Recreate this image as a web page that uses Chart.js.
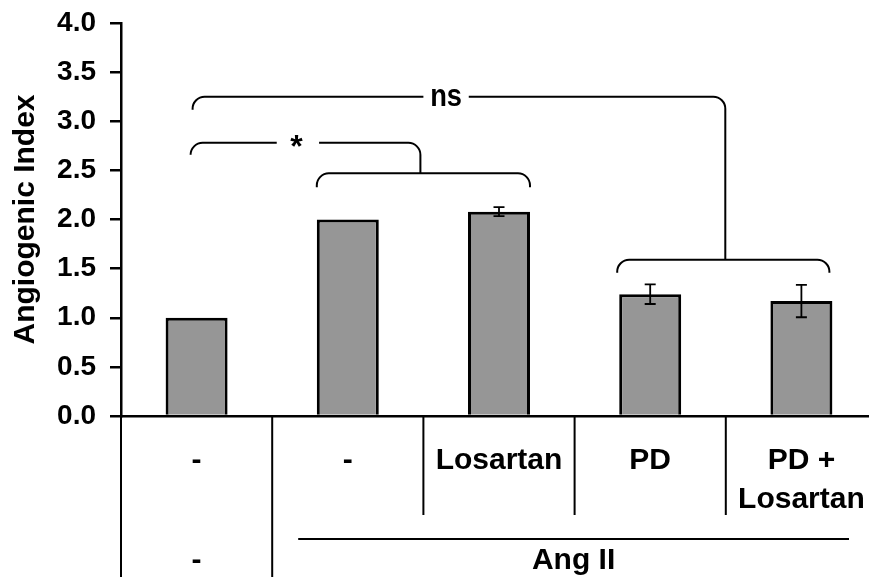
<!DOCTYPE html>
<html>
<head>
<meta charset="utf-8">
<script src="https://cdn.jsdelivr.net/npm/chart.js@4.4.1/dist/chart.umd.min.js"></script>
<style>
  html, body { margin: 0; padding: 0; background: #fff; overflow: hidden; }
  #wrap { width: 869px; height: 577px; overflow: hidden; position: relative; }
  canvas { display: block; }
</style>
</head>
<body>
<div id="wrap"><canvas id="chart" width="877" height="577"></canvas></div>
<script>
// Groups and measured angiogenic index (mean ± error)
const categories = ['Control', 'Ang II', 'Ang II + Losartan', 'Ang II + PD', 'Ang II + PD + Losartan'];
const treatmentLabels = ['-', '-', 'Losartan', 'PD', ['PD +', 'Losartan']];
const angIILabels = ['-', 'Ang II'];
const angiogenicIndex = [1.0, 2.0, 2.08, 1.24, 1.17];
const errorValues = [0, 0, 0.045, 0.1, 0.165];
const yTickValues = [0, 0.5, 1.0, 1.5, 2.0, 2.5, 3.0, 3.5, 4.0];

// Significance brackets: top line level, lower group bracket level (data units)
const starLevels = [2.78, 2.47];
const nsLevels = [3.25, 1.59];

const FONT = "'Liberation Sans', Arial, Helvetica, sans-serif";

function bracketDown(ctx, x1, x2, y, legDrop, r) {
  ctx.beginPath();
  ctx.moveTo(x1, y + legDrop);
  ctx.arcTo(x1, y, x1 + r, y, r);
  ctx.lineTo(x2 - r, y);
  ctx.arcTo(x2, y, x2, y + r, r);
  ctx.lineTo(x2, y + legDrop);
  ctx.stroke();
}

// Top comparison line: short left leg, gap for the label, corner dropping to a lower bracket
function comparisonLine(ctx, xLeft, gapL, gapR, xRight, y, yEnd, legDrop, r) {
  ctx.beginPath();
  ctx.moveTo(xLeft, y + legDrop);
  ctx.arcTo(xLeft, y, xLeft + r, y, r);
  ctx.lineTo(gapL, y);
  ctx.stroke();
  ctx.beginPath();
  ctx.moveTo(gapR, y);
  ctx.arcTo(xRight, y, xRight, y + r, r);
  ctx.lineTo(xRight, yEnd);
  ctx.stroke();
}

const errorBarPlugin = {
  id: 'errorBars',
  afterDatasetsDraw(chart) {
    const ctx = chart.ctx;
    const y = chart.scales.y;
    const meta = chart.getDatasetMeta(0);
    ctx.save();
    ctx.strokeStyle = '#000';
    ctx.lineWidth = 1.8;
    meta.data.forEach((bar, i) => {
      const e = errorValues[i];
      if (!e) return;
      const v = angiogenicIndex[i];
      const yt = y.getPixelForValue(v + e);
      const yb = y.getPixelForValue(v - e);
      const cap = 5.5;
      ctx.beginPath();
      ctx.moveTo(bar.x, yt); ctx.lineTo(bar.x, yb);
      ctx.moveTo(bar.x - cap, yt); ctx.lineTo(bar.x + cap, yt);
      ctx.moveTo(bar.x - cap, yb); ctx.lineTo(bar.x + cap, yb);
      ctx.stroke();
    });
    ctx.restore();
  }
};

const annotationPlugin = {
  id: 'annotations',
  afterDraw(chart) {
    const ctx = chart.ctx;
    const x = chart.scales.x;
    const y = chart.scales.y;
    const area = chart.chartArea;
    const meta = chart.getDatasetMeta(0);
    const hw = meta.data[0].width / 2;
    const cx = i => x.getPixelForValue(i);
    const step = cx(1) - cx(0);

    ctx.save();
    ctx.strokeStyle = '#000';
    ctx.fillStyle = '#000';
    ctx.lineWidth = 2;
    ctx.lineCap = 'butt';

    // * comparison
    const sTop = y.getPixelForValue(starLevels[0]);
    const sLow = y.getPixelForValue(starLevels[1]);
    const sL = cx(1) - hw, sR = cx(2) + hw;
    const sMid = (sL + sR) / 2 - 3;
    bracketDown(ctx, sL, sR, sLow, 14, 12);
    comparisonLine(ctx, cx(0) - 6, cx(0.53), cx(0.81), sMid, sTop, sLow, 12, 12);
    ctx.font = 'bold 32px ' + FONT;
    ctx.textAlign = 'center';
    ctx.textBaseline = 'middle';
    ctx.fillText('*', cx(0.66), sTop + 5);

    // ns comparison
    const nTop = y.getPixelForValue(nsLevels[0]);
    const nLow = y.getPixelForValue(nsLevels[1]);
    const nL = cx(3) - hw - 2, nR = cx(4) + hw - 3;
    const nMid = (nL + nR) / 2 + 2;
    bracketDown(ctx, nL, nR, nLow, 13, 12);
    comparisonLine(ctx, cx(0) - 4, cx(1.5), cx(1.8), nMid, nTop, nLow, 13, 12);
    ctx.save();
    ctx.translate(cx(1.65), nTop + 1);
    ctx.scale(0.88, 1);
    ctx.font = 'bold 31px ' + FONT;
    ctx.fillText('ns', 0, 0);
    ctx.restore();

    // Treatment table below the axis
    const base = area.bottom;
    const bottom = chart.height;
    ctx.lineWidth = 2;
    ctx.beginPath();
    ctx.moveTo(area.left, base); ctx.lineTo(area.left, bottom);
    const b1 = (cx(0) + cx(1)) / 2;
    ctx.moveTo(b1, base); ctx.lineTo(b1, bottom);
    for (let i = 1; i < 4; i++) {
      const b = (cx(i) + cx(i + 1)) / 2;
      ctx.moveTo(b, base); ctx.lineTo(b, base + 99);
    }
    const lineL = b1 + 26, lineR = cx(4) + step / 2 - 28;
    ctx.moveTo(lineL, base + 123); ctx.lineTo(lineR, base + 123);
    ctx.stroke();

    ctx.font = 'bold 30px ' + FONT;
    ctx.textAlign = 'center';
    ctx.textBaseline = 'alphabetic';
    treatmentLabels.forEach((lab, i) => {
      const lines = Array.isArray(lab) ? lab : [lab];
      lines.forEach((t, k) => ctx.fillText(t, cx(i), base + 53 + k * 39));
    });
    ctx.fillText(angIILabels[0], cx(0), base + 153);
    ctx.fillText(angIILabels[1], (lineL + lineR) / 2, base + 153);
    ctx.restore();
  }
};

new Chart(document.getElementById('chart'), {
  type: 'bar',
  data: {
    labels: categories,
    datasets: [{
      data: angiogenicIndex,
      backgroundColor: '#969696',
      borderColor: '#000',
      borderWidth: 3,
      borderSkipped: 'start',
      categoryPercentage: 1.0,
      barPercentage: 0.41
    }]
  },
  options: {
    responsive: false,
    animation: false,
    devicePixelRatio: 1,
    layout: { padding: { top: 23, left: 0, right: 0, bottom: 0 } },
    plugins: { legend: { display: false }, tooltip: { enabled: false } },
    scales: {
      x: {
        ticks: { display: false },
        grid: { display: false },
        border: { display: true, color: '#000', width: 2.5 },
        afterFit(s) { s.height = 161; }
      },
      y: {
        min: 0,
        max: 4,
        afterBuildTicks(s) { s.ticks = yTickValues.map(v => ({ value: v })); },
        ticks: {
          color: '#000',
          padding: 14,
          font: { family: FONT, size: 28, weight: 'bold', lineHeight: 0.5 },
          callback: v => Number(v).toFixed(1)
        },
        grid: { display: true, drawOnChartArea: false, drawTicks: true, tickLength: 11, color: '#000', lineWidth: 2.5 },
        border: { display: true, color: '#000', width: 2.5 },
        title: {
          display: true,
          text: 'Angiogenic Index',
          color: '#000',
          font: { family: FONT, size: 30, weight: 'bold' },
          padding: { top: 8, bottom: 0 }
        },
        afterFit(s) { s.width = 121; }
      }
    }
  },
  plugins: [errorBarPlugin, annotationPlugin]
});
</script>
</body>
</html>
